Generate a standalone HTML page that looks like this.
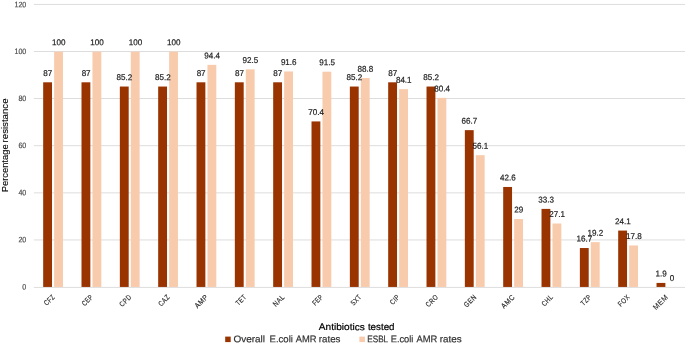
<!DOCTYPE html>
<html><head><meta charset="utf-8"><title>Antibiotic resistance chart</title>
<style>html,body{margin:0;padding:0;background:#fff;}svg{display:block;will-change:transform;}text{font-family:"Liberation Sans", sans-serif;}</style>
</head><body>
<svg width="685" height="346" viewBox="0 0 685 346">
<rect width="685" height="346" fill="#fff"/>
<line x1="33.9" y1="287.40" x2="685" y2="287.40" stroke="#DDDDDD" stroke-width="1"/>
<text transform="rotate(0.05 26.3 289.60)" x="26.3" y="289.60" font-size="7.9" fill="#4d4d4d" stroke="#4d4d4d" stroke-width="0.2" text-anchor="end" textLength="3.95" lengthAdjust="spacingAndGlyphs">0</text>
<line x1="33.9" y1="239.96" x2="685" y2="239.96" stroke="#DDDDDD" stroke-width="1"/>
<text transform="rotate(0.05 26.3 242.20)" x="26.3" y="242.20" font-size="7.9" fill="#4d4d4d" stroke="#4d4d4d" stroke-width="0.2" text-anchor="end" textLength="7.90" lengthAdjust="spacingAndGlyphs">20</text>
<line x1="33.9" y1="192.87" x2="685" y2="192.87" stroke="#DDDDDD" stroke-width="1"/>
<text transform="rotate(0.05 26.3 195.20)" x="26.3" y="195.20" font-size="7.9" fill="#4d4d4d" stroke="#4d4d4d" stroke-width="0.2" text-anchor="end" textLength="7.90" lengthAdjust="spacingAndGlyphs">40</text>
<line x1="33.9" y1="145.70" x2="685" y2="145.70" stroke="#DDDDDD" stroke-width="1"/>
<text transform="rotate(0.05 26.3 148.00)" x="26.3" y="148.00" font-size="7.9" fill="#4d4d4d" stroke="#4d4d4d" stroke-width="0.2" text-anchor="end" textLength="7.90" lengthAdjust="spacingAndGlyphs">60</text>
<line x1="33.9" y1="98.50" x2="685" y2="98.50" stroke="#DDDDDD" stroke-width="1"/>
<text transform="rotate(0.05 26.3 101.10)" x="26.3" y="101.10" font-size="7.9" fill="#4d4d4d" stroke="#4d4d4d" stroke-width="0.2" text-anchor="end" textLength="7.90" lengthAdjust="spacingAndGlyphs">80</text>
<line x1="33.9" y1="51.50" x2="685" y2="51.50" stroke="#DDDDDD" stroke-width="1"/>
<text transform="rotate(0.05 26.3 54.10)" x="26.3" y="54.10" font-size="7.9" fill="#4d4d4d" stroke="#4d4d4d" stroke-width="0.2" text-anchor="end" textLength="11.85" lengthAdjust="spacingAndGlyphs">100</text>
<line x1="33.9" y1="4.45" x2="685" y2="4.45" stroke="#DDDDDD" stroke-width="1"/>
<text transform="rotate(0.05 26.3 7.15)" x="26.3" y="7.15" font-size="7.9" fill="#4d4d4d" stroke="#4d4d4d" stroke-width="0.2" text-anchor="end" textLength="11.85" lengthAdjust="spacingAndGlyphs">120</text>
<rect x="43.17" y="82.30" width="8.85" height="204.65" fill="#993300"/>
<rect x="54.12" y="51.65" width="8.85" height="235.30" fill="#F8CBAD"/>
<text transform="translate(55.07 297.80) rotate(-45) scale(0.7551 1)" font-size="7.4" fill="#2b2b2b" stroke="#2b2b2b" stroke-width="0.15" text-anchor="end" textLength="15.47" lengthAdjust="spacing">CFZ</text>
<rect x="81.50" y="82.30" width="8.85" height="204.65" fill="#993300"/>
<rect x="92.45" y="51.65" width="8.85" height="235.30" fill="#F8CBAD"/>
<text transform="translate(93.40 297.80) rotate(-45) scale(0.7521 1)" font-size="7.4" fill="#2b2b2b" stroke="#2b2b2b" stroke-width="0.15" text-anchor="end" textLength="16.36" lengthAdjust="spacing">CEP</text>
<rect x="119.84" y="86.54" width="8.85" height="200.41" fill="#993300"/>
<rect x="130.79" y="51.65" width="8.85" height="235.30" fill="#F8CBAD"/>
<text transform="translate(131.74 297.80) rotate(-45) scale(0.7930 1)" font-size="7.4" fill="#2b2b2b" stroke="#2b2b2b" stroke-width="0.15" text-anchor="end" textLength="16.80" lengthAdjust="spacing">CPD</text>
<rect x="158.17" y="86.54" width="8.85" height="200.41" fill="#993300"/>
<rect x="169.12" y="51.65" width="8.85" height="235.30" fill="#F8CBAD"/>
<text transform="translate(170.07 297.80) rotate(-45) scale(0.7943 1)" font-size="7.4" fill="#2b2b2b" stroke="#2b2b2b" stroke-width="0.15" text-anchor="end" textLength="15.91" lengthAdjust="spacing">CAZ</text>
<rect x="196.51" y="82.30" width="8.85" height="204.65" fill="#993300"/>
<rect x="207.46" y="64.85" width="8.85" height="222.10" fill="#F8CBAD"/>
<text transform="translate(208.41 297.80) rotate(-45) scale(0.9052 1)" font-size="7.4" fill="#2b2b2b" stroke="#2b2b2b" stroke-width="0.15" text-anchor="end" textLength="17.24" lengthAdjust="spacing">AMP</text>
<rect x="234.84" y="82.30" width="8.85" height="204.65" fill="#993300"/>
<rect x="245.79" y="69.33" width="8.85" height="217.62" fill="#F8CBAD"/>
<text transform="translate(246.74 297.80) rotate(-45) scale(0.7781 1)" font-size="7.4" fill="#2b2b2b" stroke="#2b2b2b" stroke-width="0.15" text-anchor="end" textLength="15.03" lengthAdjust="spacing">TET</text>
<rect x="273.18" y="82.30" width="8.85" height="204.65" fill="#993300"/>
<rect x="284.13" y="71.45" width="8.85" height="215.50" fill="#F8CBAD"/>
<text transform="translate(285.08 297.80) rotate(-45) scale(0.8503 1)" font-size="7.4" fill="#2b2b2b" stroke="#2b2b2b" stroke-width="0.15" text-anchor="end" textLength="15.48" lengthAdjust="spacing">NAL</text>
<rect x="311.51" y="121.43" width="8.85" height="165.52" fill="#993300"/>
<rect x="322.46" y="71.69" width="8.85" height="215.26" fill="#F8CBAD"/>
<text transform="translate(323.41 297.80) rotate(-45) scale(0.7568 1)" font-size="7.4" fill="#2b2b2b" stroke="#2b2b2b" stroke-width="0.15" text-anchor="end" textLength="15.48" lengthAdjust="spacing">FEP</text>
<rect x="349.85" y="86.54" width="8.85" height="200.41" fill="#993300"/>
<rect x="360.80" y="78.05" width="8.85" height="208.90" fill="#F8CBAD"/>
<text transform="translate(361.75 297.80) rotate(-45) scale(0.7573 1)" font-size="7.4" fill="#2b2b2b" stroke="#2b2b2b" stroke-width="0.15" text-anchor="end" textLength="15.48" lengthAdjust="spacing">SXT</text>
<rect x="388.18" y="82.30" width="8.85" height="204.65" fill="#993300"/>
<rect x="399.13" y="89.13" width="8.85" height="197.82" fill="#F8CBAD"/>
<text transform="translate(400.08 297.80) rotate(-45) scale(0.7853 1)" font-size="7.4" fill="#2b2b2b" stroke="#2b2b2b" stroke-width="0.15" text-anchor="end" textLength="13.26" lengthAdjust="spacing">CIP</text>
<rect x="426.52" y="86.54" width="8.85" height="200.41" fill="#993300"/>
<rect x="437.47" y="97.86" width="8.85" height="189.09" fill="#F8CBAD"/>
<text transform="translate(438.42 297.80) rotate(-45) scale(0.7864 1)" font-size="7.4" fill="#2b2b2b" stroke="#2b2b2b" stroke-width="0.15" text-anchor="end" textLength="17.68" lengthAdjust="spacing">CRO</text>
<rect x="464.85" y="130.15" width="8.85" height="156.80" fill="#993300"/>
<rect x="475.80" y="155.14" width="8.85" height="131.81" fill="#F8CBAD"/>
<text transform="translate(476.75 297.80) rotate(-45) scale(0.8189 1)" font-size="7.4" fill="#2b2b2b" stroke="#2b2b2b" stroke-width="0.15" text-anchor="end" textLength="17.24" lengthAdjust="spacing">GEN</text>
<rect x="503.19" y="186.97" width="8.85" height="99.98" fill="#993300"/>
<rect x="514.14" y="219.03" width="8.85" height="67.92" fill="#F8CBAD"/>
<text transform="translate(515.09 297.80) rotate(-45) scale(0.8900 1)" font-size="7.4" fill="#2b2b2b" stroke="#2b2b2b" stroke-width="0.15" text-anchor="end" textLength="17.68" lengthAdjust="spacing">AMC</text>
<rect x="541.52" y="208.90" width="8.85" height="78.05" fill="#993300"/>
<rect x="552.47" y="223.51" width="8.85" height="63.44" fill="#F8CBAD"/>
<text transform="translate(553.42 297.80) rotate(-45) scale(0.7923 1)" font-size="7.4" fill="#2b2b2b" stroke="#2b2b2b" stroke-width="0.15" text-anchor="end" textLength="15.91" lengthAdjust="spacing">CHL</text>
<rect x="579.86" y="248.03" width="8.85" height="38.92" fill="#993300"/>
<rect x="590.81" y="242.14" width="8.85" height="44.81" fill="#F8CBAD"/>
<text transform="translate(591.76 297.80) rotate(-45) scale(0.7835 1)" font-size="7.4" fill="#2b2b2b" stroke="#2b2b2b" stroke-width="0.15" text-anchor="end" textLength="15.03" lengthAdjust="spacing">TZP</text>
<rect x="618.19" y="230.58" width="8.85" height="56.37" fill="#993300"/>
<rect x="629.14" y="245.44" width="8.85" height="41.51" fill="#F8CBAD"/>
<text transform="translate(630.09 297.80) rotate(-45) scale(0.8020 1)" font-size="7.4" fill="#2b2b2b" stroke="#2b2b2b" stroke-width="0.15" text-anchor="end" textLength="16.36" lengthAdjust="spacing">FOX</text>
<rect x="656.53" y="282.92" width="8.85" height="4.03" fill="#993300"/>
<text transform="translate(668.43 297.80) rotate(-45) scale(0.9472 1)" font-size="7.4" fill="#2b2b2b" stroke="#2b2b2b" stroke-width="0.15" text-anchor="end" textLength="18.56" lengthAdjust="spacing">MEM</text>
<text transform="rotate(0.05 47.79 75.90)" x="47.79" y="75.90" font-size="8.5" fill="#222" stroke="#222" stroke-width="0.2" text-anchor="middle" textLength="8.99" lengthAdjust="spacingAndGlyphs">87</text>
<text transform="rotate(0.05 58.74 45.25)" x="58.74" y="45.25" font-size="8.5" fill="#222" stroke="#222" stroke-width="0.2" text-anchor="middle" textLength="13.48" lengthAdjust="spacingAndGlyphs">100</text>
<text transform="rotate(0.05 86.13 75.90)" x="86.13" y="75.90" font-size="8.5" fill="#222" stroke="#222" stroke-width="0.2" text-anchor="middle" textLength="8.99" lengthAdjust="spacingAndGlyphs">87</text>
<text transform="rotate(0.05 97.08 45.25)" x="97.08" y="45.25" font-size="8.5" fill="#222" stroke="#222" stroke-width="0.2" text-anchor="middle" textLength="13.48" lengthAdjust="spacingAndGlyphs">100</text>
<text transform="rotate(0.05 124.46 80.14)" x="124.46" y="80.14" font-size="8.5" fill="#222" stroke="#222" stroke-width="0.2" text-anchor="middle" textLength="15.72" lengthAdjust="spacingAndGlyphs">85.2</text>
<text transform="rotate(0.05 135.41 45.25)" x="135.41" y="45.25" font-size="8.5" fill="#222" stroke="#222" stroke-width="0.2" text-anchor="middle" textLength="13.48" lengthAdjust="spacingAndGlyphs">100</text>
<text transform="rotate(0.05 162.80 80.14)" x="162.80" y="80.14" font-size="8.5" fill="#222" stroke="#222" stroke-width="0.2" text-anchor="middle" textLength="15.72" lengthAdjust="spacingAndGlyphs">85.2</text>
<text transform="rotate(0.05 173.75 45.25)" x="173.75" y="45.25" font-size="8.5" fill="#222" stroke="#222" stroke-width="0.2" text-anchor="middle" textLength="13.48" lengthAdjust="spacingAndGlyphs">100</text>
<text transform="rotate(0.05 201.13 75.90)" x="201.13" y="75.90" font-size="8.5" fill="#222" stroke="#222" stroke-width="0.2" text-anchor="middle" textLength="8.99" lengthAdjust="spacingAndGlyphs">87</text>
<text transform="rotate(0.05 212.08 58.45)" x="212.08" y="58.45" font-size="8.5" fill="#222" stroke="#222" stroke-width="0.2" text-anchor="middle" textLength="15.72" lengthAdjust="spacingAndGlyphs">94.4</text>
<text transform="rotate(0.05 239.47 75.90)" x="239.47" y="75.90" font-size="8.5" fill="#222" stroke="#222" stroke-width="0.2" text-anchor="middle" textLength="8.99" lengthAdjust="spacingAndGlyphs">87</text>
<text transform="rotate(0.05 250.42 62.93)" x="250.42" y="62.93" font-size="8.5" fill="#222" stroke="#222" stroke-width="0.2" text-anchor="middle" textLength="15.72" lengthAdjust="spacingAndGlyphs">92.5</text>
<text transform="rotate(0.05 277.80 75.90)" x="277.80" y="75.90" font-size="8.5" fill="#222" stroke="#222" stroke-width="0.2" text-anchor="middle" textLength="8.99" lengthAdjust="spacingAndGlyphs">87</text>
<text transform="rotate(0.05 288.75 65.05)" x="288.75" y="65.05" font-size="8.5" fill="#222" stroke="#222" stroke-width="0.2" text-anchor="middle" textLength="15.72" lengthAdjust="spacingAndGlyphs">91.6</text>
<text transform="rotate(0.05 316.14 115.03)" x="316.14" y="115.03" font-size="8.5" fill="#222" stroke="#222" stroke-width="0.2" text-anchor="middle" textLength="15.72" lengthAdjust="spacingAndGlyphs">70.4</text>
<text transform="rotate(0.05 327.09 65.29)" x="327.09" y="65.29" font-size="8.5" fill="#222" stroke="#222" stroke-width="0.2" text-anchor="middle" textLength="15.72" lengthAdjust="spacingAndGlyphs">91.5</text>
<text transform="rotate(0.05 354.47 80.14)" x="354.47" y="80.14" font-size="8.5" fill="#222" stroke="#222" stroke-width="0.2" text-anchor="middle" textLength="15.72" lengthAdjust="spacingAndGlyphs">85.2</text>
<text transform="rotate(0.05 365.42 71.65)" x="365.42" y="71.65" font-size="8.5" fill="#222" stroke="#222" stroke-width="0.2" text-anchor="middle" textLength="15.72" lengthAdjust="spacingAndGlyphs">88.8</text>
<text transform="rotate(0.05 392.81 75.90)" x="392.81" y="75.90" font-size="8.5" fill="#222" stroke="#222" stroke-width="0.2" text-anchor="middle" textLength="8.99" lengthAdjust="spacingAndGlyphs">87</text>
<text transform="rotate(0.05 403.76 82.73)" x="403.76" y="82.73" font-size="8.5" fill="#222" stroke="#222" stroke-width="0.2" text-anchor="middle" textLength="15.72" lengthAdjust="spacingAndGlyphs">84.1</text>
<text transform="rotate(0.05 431.14 80.14)" x="431.14" y="80.14" font-size="8.5" fill="#222" stroke="#222" stroke-width="0.2" text-anchor="middle" textLength="15.72" lengthAdjust="spacingAndGlyphs">85.2</text>
<text transform="rotate(0.05 442.09 91.46)" x="442.09" y="91.46" font-size="8.5" fill="#222" stroke="#222" stroke-width="0.2" text-anchor="middle" textLength="15.72" lengthAdjust="spacingAndGlyphs">80.4</text>
<text transform="rotate(0.05 469.48 123.75)" x="469.48" y="123.75" font-size="8.5" fill="#222" stroke="#222" stroke-width="0.2" text-anchor="middle" textLength="15.72" lengthAdjust="spacingAndGlyphs">66.7</text>
<text transform="rotate(0.05 480.43 148.74)" x="480.43" y="148.74" font-size="8.5" fill="#222" stroke="#222" stroke-width="0.2" text-anchor="middle" textLength="15.72" lengthAdjust="spacingAndGlyphs">56.1</text>
<text transform="rotate(0.05 507.81 180.57)" x="507.81" y="180.57" font-size="8.5" fill="#222" stroke="#222" stroke-width="0.2" text-anchor="middle" textLength="15.72" lengthAdjust="spacingAndGlyphs">42.6</text>
<text transform="rotate(0.05 518.76 212.63)" x="518.76" y="212.63" font-size="8.5" fill="#222" stroke="#222" stroke-width="0.2" text-anchor="middle" textLength="8.99" lengthAdjust="spacingAndGlyphs">29</text>
<text transform="rotate(0.05 546.15 202.50)" x="546.15" y="202.50" font-size="8.5" fill="#222" stroke="#222" stroke-width="0.2" text-anchor="middle" textLength="15.72" lengthAdjust="spacingAndGlyphs">33.3</text>
<text transform="rotate(0.05 557.10 217.11)" x="557.10" y="217.11" font-size="8.5" fill="#222" stroke="#222" stroke-width="0.2" text-anchor="middle" textLength="15.72" lengthAdjust="spacingAndGlyphs">27.1</text>
<text transform="rotate(0.05 584.48 241.63)" x="584.48" y="241.63" font-size="8.5" fill="#222" stroke="#222" stroke-width="0.2" text-anchor="middle" textLength="15.72" lengthAdjust="spacingAndGlyphs">16.7</text>
<text transform="rotate(0.05 595.43 235.74)" x="595.43" y="235.74" font-size="8.5" fill="#222" stroke="#222" stroke-width="0.2" text-anchor="middle" textLength="15.72" lengthAdjust="spacingAndGlyphs">19.2</text>
<text transform="rotate(0.05 622.82 224.18)" x="622.82" y="224.18" font-size="8.5" fill="#222" stroke="#222" stroke-width="0.2" text-anchor="middle" textLength="15.72" lengthAdjust="spacingAndGlyphs">24.1</text>
<text transform="rotate(0.05 633.77 239.04)" x="633.77" y="239.04" font-size="8.5" fill="#222" stroke="#222" stroke-width="0.2" text-anchor="middle" textLength="15.72" lengthAdjust="spacingAndGlyphs">17.8</text>
<text transform="rotate(0.05 661.15 276.52)" x="661.15" y="276.52" font-size="8.5" fill="#222" stroke="#222" stroke-width="0.2" text-anchor="middle" textLength="11.23" lengthAdjust="spacingAndGlyphs">1.9</text>
<text transform="rotate(0.05 672.10 281.00)" x="672.10" y="281.00" font-size="8.5" fill="#222" stroke="#222" stroke-width="0.2" text-anchor="middle" textLength="4.49" lengthAdjust="spacingAndGlyphs">0</text>
<text transform="translate(8.45 192.30) rotate(-90)" font-size="9.7" fill="#000" stroke="#000" stroke-width="0.1" textLength="47.90" lengthAdjust="spacingAndGlyphs">Percentage</text>
<text transform="translate(8.45 142.40) rotate(-90)" font-size="9.7" fill="#000" stroke="#000" stroke-width="0.1" textLength="43.90" lengthAdjust="spacingAndGlyphs">resistance</text>
<text transform="rotate(0.05 318.85 330.10)" x="318.85" y="330.10" font-size="9.7" fill="#000" stroke="#000" stroke-width="0.2" textLength="45.90" lengthAdjust="spacingAndGlyphs">Antibiotics</text>
<text transform="rotate(0.05 367.90 330.10)" x="367.90" y="330.10" font-size="9.7" fill="#000" stroke="#000" stroke-width="0.2" textLength="26.60" lengthAdjust="spacingAndGlyphs">tested</text>
<rect x="225.2" y="336.6" width="5.5" height="5.5" fill="#993300"/>
<text transform="rotate(0.05 233.50 342.20)" x="233.50" y="342.20" font-size="9.7" fill="#333" stroke="#333" stroke-width="0.2" textLength="31.50" lengthAdjust="spacingAndGlyphs">Overall</text>
<text transform="rotate(0.05 269.60 342.20)" x="269.60" y="342.20" font-size="9.7" fill="#333" stroke="#333" stroke-width="0.2" textLength="23.30" lengthAdjust="spacingAndGlyphs">E.coli</text>
<text transform="rotate(0.05 295.70 342.20)" x="295.70" y="342.20" font-size="9.7" fill="#333" stroke="#333" stroke-width="0.2" textLength="20.80" lengthAdjust="spacingAndGlyphs">AMR</text>
<text transform="rotate(0.05 318.80 342.20)" x="318.80" y="342.20" font-size="9.7" fill="#333" stroke="#333" stroke-width="0.2" textLength="21.70" lengthAdjust="spacingAndGlyphs">rates</text>
<rect x="359.4" y="336.6" width="5.5" height="5.5" fill="#F8CBAD"/>
<text transform="rotate(0.05 367.20 342.20)" x="367.20" y="342.20" font-size="9.7" fill="#333" stroke="#333" stroke-width="0.2" textLength="21.00" lengthAdjust="spacingAndGlyphs">ESBL</text>
<text transform="rotate(0.05 390.70 342.20)" x="390.70" y="342.20" font-size="9.7" fill="#333" stroke="#333" stroke-width="0.2" textLength="22.70" lengthAdjust="spacingAndGlyphs">E.coli</text>
<text transform="rotate(0.05 416.40 342.20)" x="416.40" y="342.20" font-size="9.7" fill="#333" stroke="#333" stroke-width="0.2" textLength="20.90" lengthAdjust="spacingAndGlyphs">AMR</text>
<text transform="rotate(0.05 439.70 342.20)" x="439.70" y="342.20" font-size="9.7" fill="#333" stroke="#333" stroke-width="0.2" textLength="21.90" lengthAdjust="spacingAndGlyphs">rates</text>
</svg></body></html>
